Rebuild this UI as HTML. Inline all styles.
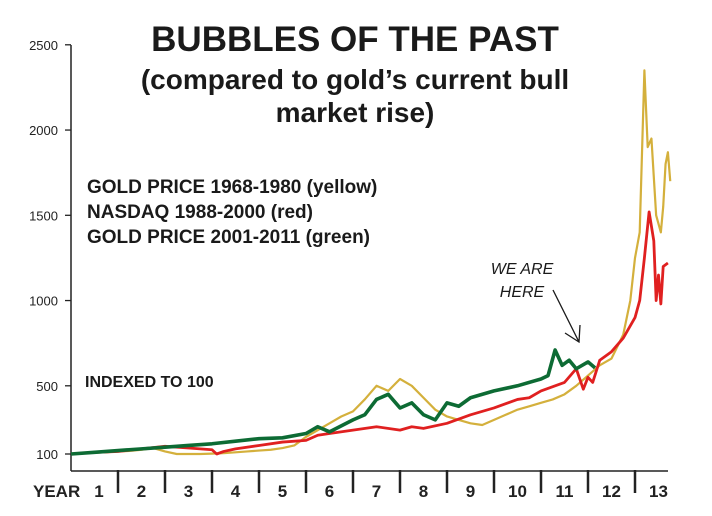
<!DOCTYPE html>
<html><head><meta charset="utf-8"><style>
body{margin:0;background:#fff;width:712px;height:511px;overflow:hidden;font-family:"Liberation Sans",Arial,sans-serif}
svg text{font-family:"Liberation Sans",Arial,sans-serif}
</style></head><body>
<svg id="chart" width="712" height="511" viewBox="0 0 712 511" xmlns="http://www.w3.org/2000/svg">
<text x="355" y="51" text-anchor="middle" font-size="35" font-weight="bold" fill="#1a1a1a">BUBBLES OF THE PAST</text>
<text x="355" y="89" text-anchor="middle" font-size="28" font-weight="bold" fill="#1a1a1a">(compared to gold’s current bull</text>
<text x="355" y="122" text-anchor="middle" font-size="28" font-weight="bold" fill="#1a1a1a">market rise)</text>
<text x="87" y="193" font-size="19" font-weight="bold" fill="#1a1a1a">GOLD PRICE 1968-1980 (yellow)</text>
<text x="87" y="218" font-size="19" font-weight="bold" fill="#1a1a1a">NASDAQ 1988-2000 (red)</text>
<text x="87" y="243" font-size="19" font-weight="bold" fill="#1a1a1a">GOLD PRICE 2001-2011 (green)</text>
<text x="85" y="387" font-size="16" font-weight="bold" fill="#1a1a1a">INDEXED TO 100</text>
<text x="522" y="274" text-anchor="middle" font-size="16" font-style="italic" fill="#1a1a1a">WE ARE</text>
<text x="522" y="297" text-anchor="middle" font-size="16" font-style="italic" fill="#1a1a1a">HERE</text>
<g stroke="#1a1a1a" stroke-width="1.3" fill="none">
<line x1="553" y1="290" x2="579" y2="342"/><polyline points="565,333 579,342 580,325"/>
</g>
<g id="axes"></g>
<g id="series"></g>
</svg>
<script>
const yTicks=[100,500,1000,1500,2000,2500];
const yearLabels=["1","2","3","4","5","6","7","8","9","10","11","12","13"];
const yellowX=[0,.25,.5,.75,1,1.25,1.5,1.75,2,2.25,2.5,2.75,3,3.25,3.5,3.75,4,4.25,4.5,4.75,5,5.25,5.5,5.75,6,6.25,6.5,6.75,7,7.25,7.5,7.75,8,8.25,8.5,8.75,9,9.25,9.5,9.75,10,10.25,10.5,10.75,11,11.25,11.5,11.75,11.9,12,12.1,12.2,12.27,12.35,12.45,12.55,12.6,12.65,12.7,12.75];
const yellowV=[100,105,108,110,115,118,125,135,115,100,100,100,102,105,110,115,120,125,135,150,200,240,280,320,350,420,500,470,540,500,430,360,320,300,280,270,300,330,360,380,400,420,450,500,560,620,660,800,1000,1250,1400,2350,1900,1950,1500,1400,1550,1800,1870,1700];
const redX=[0,.5,1,1.5,2,2.5,3,3.1,3.25,3.5,4,4.5,5,5.25,5.5,6,6.5,7,7.25,7.5,8,8.5,9,9.5,9.75,10,10.5,10.75,10.9,11,11.1,11.25,11.5,11.75,12,12.1,12.2,12.3,12.4,12.45,12.5,12.55,12.6,12.7];
const redV=[100,110,115,130,145,135,125,100,115,130,150,170,180,210,220,240,260,240,260,250,280,330,370,420,430,470,520,600,480,550,520,650,700,780,900,1000,1250,1520,1350,1000,1150,980,1200,1220];
const greenX=[0,.5,1,1.5,2,2.5,3,3.5,4,4.5,5,5.25,5.5,6,6.25,6.5,6.75,7,7.25,7.5,7.75,8,8.25,8.5,9,9.5,10,10.15,10.3,10.45,10.6,10.75,11,11.15];
const greenV=[100,110,120,130,140,150,160,175,190,195,220,260,230,300,330,420,450,370,400,330,300,400,380,430,470,500,540,560,710,620,650,600,640,605];
const NS="http://www.w3.org/2000/svg";
const X0=71,YW=47;
const xs=y=>X0+y*YW;
const ys=v=>454-(v-100)*0.1705;
const ax=document.getElementById('axes'),sg=document.getElementById('series');
function mk(tag,attrs,parent){const e=document.createElementNS(NS,tag);for(const k in attrs)e.setAttribute(k,attrs[k]);parent.appendChild(e);return e;}
let e=mk('line',{x1:X0,y1:45,x2:X0,y2:471,stroke:'#222','stroke-width':1.5},ax);


e=mk('line',{x1:X0,y1:471,x2:668,y2:471,stroke:'#222','stroke-width':1.5},ax);


yTicks.forEach(v=>{
 const t=mk('line',{x1:X0-6,y1:ys(v),x2:X0,y2:ys(v),stroke:'#222','stroke-width':1.3},ax);
 
 
 const l=mk('text',{x:X0-13,y:ys(v)+5,'text-anchor':'end','font-size':13,fill:'#222'},ax);
 l.textContent=v;
 
 
});
const yl=mk('text',{x:33,y:497,'font-size':17,'font-weight':'bold',fill:'#222'},ax);
yl.textContent='YEAR';


yearLabels.forEach((s,i)=>{
 if(i>0){const d=mk('line',{x1:xs(i),y1:470,x2:xs(i),y2:493,stroke:'#222','stroke-width':2.5},ax);
 
 }
 const cx=i==0?xs(0)+28:xs(i)+YW/2;
 const t=mk('text',{x:cx,y:497,'text-anchor':'middle','font-size':17,'font-weight':'bold',fill:'#222'},ax);
 t.textContent=s;
 
 
});
function line(X,V,color,w,name){
 const p=mk('polyline',{points:X.map((x,i)=>xs(x)+','+ys(V[i])).join(' '),fill:'none',stroke:color,'stroke-width':w,'stroke-linejoin':'round'},sg);
 
 
}
line(yellowX,yellowV,'#d4b03c',2.2,'gold-1968-line');
line(redX,redV,'#e02020',2.8,'nasdaq-line');
line(greenX,greenV,'#0d6b34',3.6,'gold-2001-line');
</script>
</body></html>
